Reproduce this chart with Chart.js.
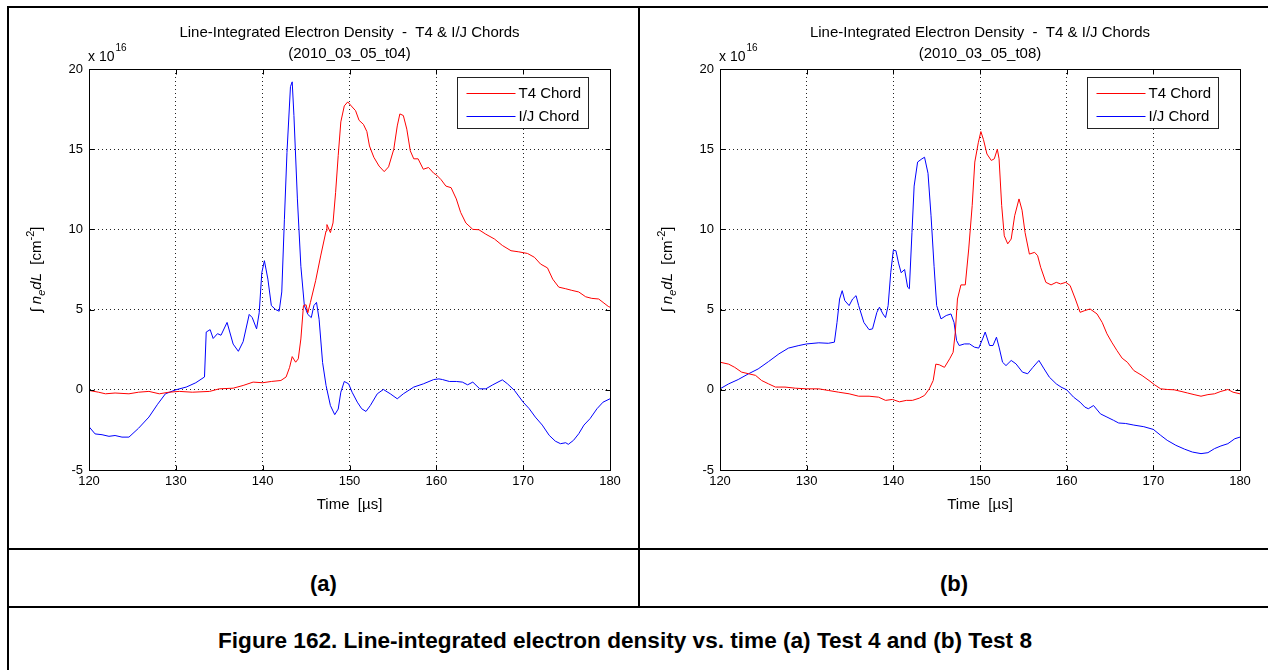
<!DOCTYPE html>
<html>
<head>
<meta charset="utf-8">
<script src="https://cdn.jsdelivr.net/npm/chart.js@4.4.1/dist/chart.umd.min.js"></script>
<style>
  body { margin: 0; background: #fff; }
  #page { position: relative; width: 1268px; height: 670px; overflow: hidden; font-family: "Liberation Sans", Arial, sans-serif; }
  .rule { position: absolute; background: #000; }
  canvas { position: absolute; }
  .sub { position: absolute; text-align: center; font-weight: bold; font-size: 22px; color: #000; }
</style>
</head>
<body>
<div id="page">
  <div class="rule" style="left:7px;top:6px;width:1261px;height:2px"></div>
  <div class="rule" style="left:7px;top:6px;width:2px;height:664px"></div>
  <div class="rule" style="left:638px;top:6px;width:2px;height:602px"></div>
  <div class="rule" style="left:7px;top:548px;width:1261px;height:2px"></div>
  <div class="rule" style="left:7px;top:606px;width:1261px;height:2px"></div>

  <canvas id="chartA" width="629" height="540" style="left:9px;top:8px;width:629px;height:540px"></canvas>
  <canvas id="chartB" width="628" height="540" style="left:640px;top:8px;width:628px;height:540px"></canvas>

  <div class="sub" style="left:9px;width:629px;top:571px;line-height:26px">(a)</div>
  <div class="sub" style="left:640px;width:628px;top:571px;line-height:26px">(b)</div>
  <div class="sub" style="left:0;width:1250px;top:628px;line-height:26px;font-size:22.6px">Figure 162. Line-integrated electron density vs. time (a) Test 4 and (b) Test 8</div>
</div>

<script>
// values in units of 1e16 cm^-2, time in microseconds
const xTicks = [120, 130, 140, 150, 160, 170, 180];
const yTicks = [-5, 0, 5, 10, 15, 20];
const seriesNames = ['T4 Chord', 'I/J Chord'];
const panelTitle = 'Line-Integrated Electron Density  -  T4 & I/J Chords';
const shotA = '(2010_03_05_t04)';
const shotB = '(2010_03_05_t08)';

// (a) test 4
const timeA_T4 = [120, 121.1, 121.9, 123.0, 124.6, 125.7, 126.9, 128.1, 129.2, 130.4, 131.9, 133.9, 135.0, 136.6, 137.75, 138.9,
  140.0, 141.0, 142.1, 142.7, 143.1, 143.4, 143.8, 144.1, 144.4, 144.7, 145.0, 145.2, 145.5, 146.1, 146.7, 147.3, 147.4, 147.8,
  148.1, 148.4, 148.7, 149.0, 149.4, 149.8, 150.2, 150.7, 151.1, 151.6, 152.0, 152.3, 152.8, 153.4, 154.0, 154.5, 155.1, 155.5,
  155.8, 156.2, 156.6, 157.0, 157.4, 157.9, 158.5, 159.1, 159.7, 160.0, 160.55, 161.1, 161.7, 162.3, 162.8, 163.4, 164.2, 164.9,
  165.7, 166.7, 167.6, 168.6, 169.5, 170.5, 171.3, 172.0, 172.8, 173.4, 174.1, 174.9, 175.6, 176.4, 177.2, 177.9, 178.7, 179.2,
  179.8, 180];
const densA_T4 = [-0.04, -0.15, -0.25, -0.2, -0.25, -0.15, -0.1, -0.25, -0.15, -0.1, -0.15, -0.1, 0.06, 0.1, 0.27, 0.48,
  0.44, 0.52, 0.58, 0.8, 1.4, 2.07, 1.72, 1.93, 3.17, 5.25, 5.3, 4.8, 5.45, 6.8, 8.4, 9.9, 10.3, 9.8,
  10.4, 12.3, 14.6, 16.7, 17.7, 17.95, 17.7, 17.4, 16.8, 16.55, 16.1, 15.2, 14.5, 13.95, 13.6, 13.9, 15.0, 16.45,
  17.2, 17.1, 16.25, 14.9, 14.4, 14.4, 13.75, 13.86, 13.5, 13.4, 13.1, 12.7, 12.6, 11.9, 11.06, 10.4, 10.0, 9.98,
  9.7, 9.4, 9.0, 8.67, 8.6, 8.5, 8.26, 7.84, 7.6, 6.9, 6.4, 6.3, 6.2, 6.1, 5.8, 5.7, 5.66, 5.45,
  5.2, 5.15];

const timeA_IJ = [120, 120.7, 121.5, 122.3, 123.0, 123.8, 124.6, 125.7, 126.9, 127.9, 128.8, 130.0, 131.2, 132.3, 133.3, 133.5,
  133.95, 134.3, 134.8, 135.2, 135.9, 136.6, 137.2, 137.75, 138.45, 138.8, 139.3, 139.6, 139.9, 140.2, 140.6, 141.0, 141.5,
  141.9, 142.2, 142.5, 142.8, 143.2, 143.4, 143.6, 144.0, 144.4, 144.8, 145.2, 145.6, 145.9, 146.2, 146.5, 146.9, 147.3,
  147.8, 148.3, 148.7, 149.0, 149.4, 149.9, 150.3, 150.9, 151.4, 151.9, 152.4, 153.2, 153.9, 154.7, 155.5, 156.2, 157.4,
  158.5, 159.7, 160.3, 160.7, 161.5, 162.3, 163.0, 163.6, 164.2, 165.0, 165.7, 166.5, 167.6, 168.2, 169.0, 170.0, 170.7,
  171.4, 172.2, 173.0, 173.7, 174.3, 174.9, 175.2, 175.8, 176.4, 177.0, 177.7, 178.5, 179.2, 180];
const densA_IJ = [-2.3, -2.75, -2.8, -2.9, -2.85, -2.95, -2.95, -2.4, -1.7, -0.9, -0.25, 0, 0.17, 0.44, 0.8, 3.6,
  3.75, 3.2, 3.5, 3.4, 4.2, 2.85, 2.4, 3.0, 4.7, 4.5, 3.8, 4.8, 7.3, 8.05, 6.9, 5.25, 5.0,
  4.9, 6.1, 10.6, 14.8, 18.9, 19.2, 17.1, 11.9, 7.7, 5.25, 4.7, 4.5, 5.25, 5.45, 4.4, 1.7, 0.27,
  -0.98, -1.55, -1.2, -0.15, 0.52, 0.37, -0.15, -0.77, -1.18, -1.35, -0.98, -0.25, 0.02, -0.25, -0.56, -0.25, 0.17,
  0.37, 0.64, 0.68, 0.64, 0.52, 0.52, 0.48, 0.31, 0.48, 0.06, 0.06, 0.31, 0.62, 0.37, -0.04, -0.77, -1.18,
  -1.7, -2.2, -2.84, -3.2, -3.36, -3.3, -3.4, -3.15, -2.74, -2.2, -1.8, -1.18, -0.77, -0.56];

// (b) test 8
const timeB_T4 = [120, 121.0, 121.7, 122.5, 123.3, 124.1, 124.8, 125.6, 126.4, 127.5, 128.7, 130, 131.4, 132.5, 133.7, 134.9,
  136.0, 137.2, 138.3, 139.1, 139.9, 140.7, 141.5, 142.2, 143.0, 143.6, 144.15, 144.6, 144.9, 145.3, 145.9, 146.5, 146.9,
  147.15, 147.4, 147.8, 148.3, 148.7, 149.1, 149.4, 149.8, 150.1, 150.4, 150.8, 151.3, 151.65, 152.0, 152.2, 152.5, 152.8,
  153.2, 153.6, 154.0, 154.5, 154.85, 155.2, 155.7, 156.3, 156.65, 157.0, 157.6, 158.2, 158.8, 159.3, 159.9, 160.4, 161.0,
  161.55, 162.1, 162.7, 163.5, 164.1, 164.65, 165.2, 165.8, 166.4, 167.0, 167.75, 168.7, 169.5, 170.15, 170.85, 171.6,
  172.4, 173.2, 173.95, 174.7, 175.5, 176.3, 177.05, 177.8, 178.6, 179.2, 180];
const densB_T4 = [1.72, 1.6, 1.4, 1.1, 1.0, 0.9, 0.58, 0.37, 0.17, 0.17, 0.1, 0.06, 0.06, -0.04, -0.15, -0.25,
  -0.4, -0.4, -0.46, -0.66, -0.6, -0.75, -0.66, -0.66, -0.52, -0.35, 0.06, 0.58, 1.6, 1.56, 1.4, 1.93, 2.34,
  3.6, 5.66, 6.54, 6.54, 8.78, 11.5, 14.2, 15.4, 16.1, 15.6, 14.7, 14.3, 14.4, 15.0, 14.4, 11.5, 9.6,
  9.1, 9.4, 10.85, 11.9, 11.2, 9.8, 8.46, 8.57, 8.36, 7.64, 6.7, 6.54, 6.7, 6.6, 6.7, 6.5, 5.66,
  4.83, 4.94, 5.04, 4.73, 4.2, 3.49, 2.97, 2.45, 1.97, 1.72, 1.2, 0.89, 0.58, 0.31, 0.06, 0.02,
  0, -0.1, -0.2, -0.3, -0.4, -0.3, -0.25, -0.1, 0.02, -0.15, -0.25];

const timeB_IJ = [120, 121.0, 122.1, 123.3, 124.4, 125.6, 126.8, 127.9, 129.1, 130, 131.4, 132.5, 133.2, 133.5, 133.8, 134.1,
  134.4, 134.9, 135.3, 135.7, 136.0, 136.6, 137.2, 137.6, 138.1, 138.4, 138.8, 139.1, 139.4, 139.7, 140.0, 140.3, 140.6,
  140.9, 141.3, 141.65, 141.85, 142.15, 142.4, 142.8, 143.3, 143.6, 144.0, 144.35, 144.7, 145.0, 145.5, 146.1, 146.65,
  147.0, 147.3, 147.6, 148.2, 148.8, 149.35, 149.85, 150.3, 150.6, 151.1, 151.5, 151.9, 152.2, 152.6, 153.0, 153.6,
  154.15, 154.9, 155.5, 156.1, 156.8, 157.4, 158.0, 158.8, 159.35, 160, 160.8, 161.55, 162.1, 162.5, 163.1, 163.9,
  164.65, 165.4, 166.0, 166.8, 167.75, 168.9, 170, 170.85, 171.6, 172.6, 173.6, 174.5, 175.5, 176.3, 177.05, 177.8,
  178.6, 179.4, 180];
const densB_IJ = [0.06, 0.37, 0.64, 1.0, 1.3, 1.76, 2.24, 2.6, 2.76, 2.86, 2.93, 2.9, 2.97, 4.2, 5.66, 6.18,
  5.56, 5.25, 5.66, 5.87, 5.25, 4.2, 3.75, 3.8, 4.83, 5.15, 4.73, 4.5, 5.25, 7.3, 8.7, 8.67, 7.9,
  7.3, 7.5, 6.4, 6.3, 9.8, 12.7, 14.2, 14.4, 14.5, 13.5, 10.85, 7.7, 5.25, 4.42, 4.63, 4.73,
  4.2, 3.07, 2.76, 2.86, 2.86, 2.66, 2.6, 3.17, 3.6, 2.76, 2.76, 3.28, 2.66, 1.72, 1.51, 1.83,
  1.62, 1.1, 1.0, 1.4, 1.83, 1.3, 0.79, 0.37, 0.17, 0, -0.46, -0.77, -1.08, -1.18, -0.98, -1.5,
  -1.7, -1.9, -2.07, -2.1, -2.2, -2.3, -2.47, -2.84, -3.15, -3.46, -3.7, -3.88, -3.98, -3.92, -3.67, -3.5,
  -3.36, -3.05, -2.95];

const FONT = '"Liberation Sans", Arial, sans-serif';

// MATLAB-style box, inward ticks, title, exponent, y label and legend
const matlabDecor = {
    id: 'matlabDecor',
    afterDraw(chart, args, opts) {
        const { ctx, chartArea: a, scales: { x, y } } = chart;
        const L = Math.round(a.left) + 0.5, R = Math.round(a.right) + 0.5;
        const T = Math.round(a.top) + 0.5, B = Math.round(a.bottom) + 0.5;
        ctx.save();
        ctx.strokeStyle = '#000';
        ctx.lineWidth = 1;
        ctx.setLineDash([]);
        ctx.strokeRect(L, T, R - L, B - T);

        // inward tick marks
        ctx.beginPath();
        xTicks.forEach(v => {
            const px = Math.round(x.getPixelForValue(v)) + 0.5;
            ctx.moveTo(px, B); ctx.lineTo(px, B - 5);
            ctx.moveTo(px, T); ctx.lineTo(px, T + 5);
        });
        yTicks.forEach(v => {
            const py = Math.round(y.getPixelForValue(v)) + 0.5;
            ctx.moveTo(L, py); ctx.lineTo(L + 5, py);
            ctx.moveTo(R, py); ctx.lineTo(R - 5, py);
        });
        ctx.stroke();

        // title
        const cx = (a.left + a.right) / 2;
        ctx.fillStyle = '#000';
        ctx.textAlign = 'center';
        ctx.textBaseline = 'middle';
        ctx.font = '15px ' + FONT;
        ctx.fillText(panelTitle, cx, 24.5);
        ctx.fillText(opts.shot, cx, 45.5);

        // exponent
        ctx.textAlign = 'left';
        ctx.font = '14px ' + FONT;
        ctx.fillText('x 10', a.left - 1, 49.5);
        const w10 = ctx.measureText('x 10').width;
        ctx.font = '10px ' + FONT;
        ctx.fillText('16', a.left - 1 + w10 + 1, 40);

        // y label
        const parts = [
            { t: '\u222B ', s: 15, it: false, dy: 0 },
            { t: 'n', s: 15, it: true, dy: 0 },
            { t: 'e', s: 11, it: true, dy: 5 },
            { t: 'dL', s: 15, it: true, dy: 0 },
            { t: '  [cm', s: 15, it: false, dy: 0 },
            { t: '-2', s: 11, it: false, dy: -6 },
            { t: ']', s: 15, it: false, dy: 0 }
        ];
        const fontOf = p => (p.it ? 'italic ' : '') + p.s + 'px ' + FONT;
        let total = 0;
        parts.forEach(p => { ctx.font = fontOf(p); p.w = ctx.measureText(p.t).width; total += p.w; });
        ctx.save();
        ctx.translate(opts.yLabelX, (a.top + a.bottom) / 2);
        ctx.rotate(-Math.PI / 2);
        let px = -total / 2;
        parts.forEach(p => {
            ctx.font = fontOf(p);
            ctx.fillText(p.t, px, p.dy);
            px += p.w;
        });
        ctx.restore();

        // legend
        const bw = 131, bh = 51;
        const bx = Math.round(a.right - 22 - bw) + 0.5, by = Math.round(a.top + 8) + 0.5;
        ctx.fillStyle = '#fff';
        ctx.fillRect(bx, by, bw, bh);
        ctx.strokeStyle = '#222';
        ctx.strokeRect(bx, by, bw, bh);
        ctx.font = '15px ' + FONT;
        ctx.textAlign = 'left';
        chart.data.datasets.forEach((ds, i) => {
            const ly = Math.round(by + 15 + i * 23) + 0.5;
            ctx.strokeStyle = ds.borderColor;
            ctx.beginPath();
            ctx.moveTo(bx + 9, ly); ctx.lineTo(bx + 58, ly);
            ctx.stroke();
            ctx.fillStyle = '#000';
            ctx.fillText(ds.label, bx + 61, ly + 0.5);
        });
        ctx.restore();
    }
};

function pairs(ts, vs) {
    return ts.map((t, i) => ({ x: t, y: vs[i] }));
}

function makeChart(id, shot, t4t, t4v, ijt, ijv) {
    const ctx = document.getElementById(id).getContext('2d');
    return new Chart(ctx, {
        type: 'line',
        data: {
            datasets: [
                { label: seriesNames[0], data: pairs(t4t, t4v), borderColor: '#ff0000', borderWidth: 1, pointRadius: 0, tension: 0, fill: false },
                { label: seriesNames[1], data: pairs(ijt, ijv), borderColor: '#0000ff', borderWidth: 1, pointRadius: 0, tension: 0, fill: false }
            ]
        },
        options: {
            responsive: false,
            animation: false,
            events: [],
            layout: { padding: { left: 40, right: 28, top: 61, bottom: 34 } },
            plugins: {
                legend: { display: false },
                tooltip: { enabled: false },
                matlabDecor: { shot, yLabelX: 28 }
            },
            scales: {
                x: {
                    type: 'linear', min: 120, max: 180,
                    afterBuildTicks: s => { s.ticks = xTicks.map(v => ({ value: v })); },
                    afterFit: s => { s.height = 44; },
                    grid: { color: '#222', lineWidth: 1, drawTicks: false },
                    border: { display: true, color: '#000', dash: [1, 3] },
                    ticks: { padding: 4, maxRotation: 0, color: '#000', font: { size: 13, family: FONT } },
                    title: { display: true, text: 'Time  [\u00B5s]', color: '#000', padding: 0, font: { size: 15, family: FONT } }
                },
                y: {
                    type: 'linear', min: -5, max: 20,
                    afterBuildTicks: s => { s.ticks = yTicks.map(v => ({ value: v })); },
                    afterFit: s => { s.width = 40; },
                    grid: { color: '#222', lineWidth: 1, drawTicks: false },
                    border: { display: true, color: '#000', dash: [1, 3] },
                    ticks: { padding: 6, color: '#000', font: { size: 13, family: FONT } }
                }
            }
        },
        plugins: [matlabDecor]
    });
}

makeChart('chartA', shotA, timeA_T4, densA_T4, timeA_IJ, densA_IJ);
makeChart('chartB', shotB, timeB_T4, densB_T4, timeB_IJ, densB_IJ);
</script>
</body>
</html>
